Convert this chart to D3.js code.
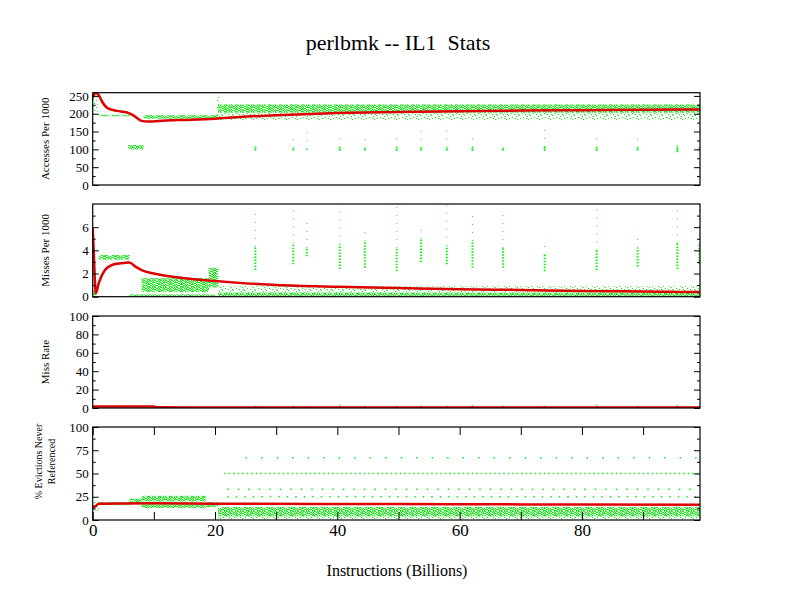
<!DOCTYPE html>
<html>
<head>
<meta charset="utf-8">
<script src="https://cdn.jsdelivr.net/npm/d3@7"></script>
<style>
body { margin: 0; background: #fff; }
svg text { font-family: "Liberation Serif", "Times New Roman", serif; fill: #000; }
</style>
</head>
<body>
<svg width="792" height="612"></svg>
<script>
// x as
let xMax = 99.3;
let xTickValues = [0, 10, 20, 30, 40, 50, 60, 70, 80, 90];
let xTickLabels = [0, 20, 40, 60, 80];

// plaatsen van de pieken (miljard instructies)
let spikeX = [26.6, 32.8, 35.0, 40.4, 44.5, 49.7, 53.7, 57.9, 62.1, 67.1, 73.9, 82.4, 89.1, 95.6, 99.2];

// paneel 1 : accesses per 1000
let accRedX = [0, 0.5, 1, 1.5, 2.5, 4, 5.5, 6.5, 8, 9, 12, 16, 20, 24, 30, 40, 50, 60, 70, 80, 90, 99.3];
let accRedY = [245, 258, 252, 235, 215, 208, 204, 197, 180, 178, 181, 183, 186, 191, 196, 202, 205, 207, 209, 210, 211, 212];
// [x0, x1, laag, hoog, dicht]
let accBands = [[0, 0.8, 200, 258, 0], [0.8, 6, 194, 197, 1], [5.8, 8.3, 100, 112, 1], [8.3, 20.5, 186, 196, 1],
                [20.5, 99.3, 203, 226, 1], [20.5, 99.3, 182, 203, 0], [20.2, 20.7, 196, 252, 0]];
let accSpikeLo = [97, 97, 98, 96, 97, 96, 97, 97, 96, 97, 96, 96, 97, 92, 97];
let accSpikeHi = [106, 104, 100, 106, 104, 106, 105, 105, 106, 104, 107, 106, 105, 108, 104];
let accSpikeTop = [125, 140, 150, 140, 140, 150, 165, 155, 140, 120, 155, 150, 135, 125, 120];

// paneel 2 : misses per 1000
let missRedX = [0, 0.2, 0.5, 1, 2, 3, 4, 5, 6, 7, 8, 10, 12, 15, 20, 25, 30, 40, 50, 60, 70, 80, 90, 99.3];
let missRedY = [5.9, 3.5, 0.3, 1.2, 2.3, 2.7, 2.85, 2.9, 2.95, 2.6, 2.3, 2.0, 1.8, 1.6, 1.35, 1.15, 1.0, 0.85, 0.75, 0.65, 0.58, 0.5, 0.45, 0.4];
let missBands = [[0, 0.5, 0.1, 0.5, 1], [1, 6, 3.2, 3.6, 1], [6, 20, 0, 0.2, 1], [8, 19, 0.4, 1.6, 1],
                 [19, 20.5, 0.8, 2.5, 1], [20.5, 99.3, 0.0, 0.35, 1], [20.5, 99.3, 0.35, 0.9, 0]];
let missSpikeLo = [2.3, 2.8, 3.5, 2.4, 2.5, 2.2, 3.0, 2.8, 2.5, 2.5, 2.2, 2.3, 2.6, 2.4, 2.8];
let missSpikeHi = [4.3, 4.6, 4.2, 4.5, 4.8, 4.2, 5.0, 4.4, 4.8, 4.2, 3.6, 4.0, 4.2, 4.6, 4.6];
let missSpikeTop = [7.5, 7.8, 6.5, 8, 6, 8, 6, 8, 7, 7.5, 5, 8, 5.6, 7.5, 8];

// paneel 3 : miss rate
let rateRedX = [0, 1, 5, 10, 10.5, 20, 40, 60, 80, 99.3];
let rateRedY = [1.5, 1.6, 1.6, 1.5, 0.8, 0.6, 0.5, 0.5, 0.5, 0.5];
let rateBands = [[0, 8, 0.3, 2.0, 0], [8, 20, 0, 0.5, 1], [20, 99.3, 0, 1.3, 0]];
let rateSpikeHi = [3, 3, 2.5, 3.5, 3, 3, 3, 3, 3.5, 3, 3, 3.5, 3, 3.5, 3];

// paneel 4 : % evictions never referenced
let evRedX = [0, 0.5, 1, 5, 10, 20, 40, 60, 70, 80, 99.3];
let evRedY = [13.7, 15, 17.5, 17.8, 18, 17.6, 17.2, 17, 16.8, 16.6, 16.5];
let evBands = [[0, 1, 8, 20, 0], [1, 6, 16, 19, 1], [6, 8, 17, 23, 1], [8, 18.5, 20, 26, 1], [8, 18.5, 13, 18, 1],
               [18.5, 20.5, 14, 19, 1], [20.5, 99.3, 4, 14, 1], [20.5, 99.3, 1, 4, 0]];
// rijen van losse punten [x0, x1, waarde, tussenruimte]
let evRows = [[21.5, 99.3, 50, 3], [25, 99.3, 67, 14], [22, 99.3, 33, 9], [22, 99.3, 25, 7]];

// panelen
let panelLabels = [["Accesses Per 1000"], ["Misses Per 1000"], ["Miss Rate"], ["% Evictions Never", "Referenced"]];
let yMaxes = [259, 8, 100, 100];
let yMajor = [[0, 50, 100, 150, 200, 250], [0, 2, 4, 6], [0, 20, 40, 60, 80, 100], [0, 25, 50, 75, 100]];
let yMinor = [[25, 75, 125, 175, 225], [1, 3, 5, 7], [10, 30, 50, 70, 90], [12.5, 37.5, 62.5, 87.5]];

let left = 92.7, right = 700;
let tops = [92.7, 204, 316, 427];
let bottoms = [185, 296.7, 408, 520];
let green = "#11ee11", red = "#dd0000";

let svg = d3.select("svg");

// stippel patronen voor de puntenwolken (rij -> kolommen met een stip)
let defs = svg.append("defs");
let speck = {
    dense: [[0,1,4,6,7,9], [2,3,5,8,10], [0,1,4,6,9,10], [2,3,5,7,8], [0,4,5,6,9], [1,2,3,7,8,10], [0,4,5,6,9]],
    sparse: [[0], [5], [1,8], [2], [10], [6], [3,9]]
};
Object.keys(speck).forEach(function (k) {
    let cells = [];
    speck[k].forEach((cols, r) => cols.forEach(c => cells.push([c, r])));
    defs.append("pattern")
        .attr("id", "sp-" + k)
        .attr("patternUnits", "userSpaceOnUse")
        .attr("width", 11).attr("height", 7)
        .selectAll("rect")
        .data(cells)
        .enter()
        .append("rect")
        .attr("x", d => d[0]).attr("y", d => d[1])
        .attr("width", 1.1).attr("height", 1.1)
        .attr("fill", green);
});

let x = d3.scaleLinear().domain([0, xMax]).range([left, right]);

// titel
svg.append("text")
    .attr("x", 398).attr("y", 50)
    .attr("text-anchor", "middle")
    .attr("font-size", 22)
    .style("white-space", "pre")
    .text("perlbmk -- IL1  Stats");

svg.append("text")
    .attr("x", 397).attr("y", 576)
    .attr("text-anchor", "middle")
    .attr("font-size", 16)
    .text("Instructions (Billions)");

let panelData = [
    {redX: accRedX, redY: accRedY, bands: accBands},
    {redX: missRedX, redY: missRedY, bands: missBands},
    {redX: rateRedX, redY: rateRedY, bands: rateBands},
    {redX: evRedX, redY: evRedY, bands: evBands}
];

panelData.forEach(function (p, i) {
    let y = d3.scaleLinear().domain([0, yMaxes[i]]).range([bottoms[i], tops[i]]);
    let g = svg.append("g");
    let clipId = "clip" + i;
    defs.append("clipPath").attr("id", clipId)
        .append("rect")
        .attr("x", left).attr("y", tops[i] - 1)
        .attr("width", right - left).attr("height", bottoms[i] - tops[i] + 1);
    let plot = g.append("g").attr("clip-path", "url(#" + clipId + ")");

    // groene wolken
    plot.selectAll("rect.band")
        .data(p.bands)
        .enter()
        .append("rect")
        .attr("class", "band")
        .attr("x", d => x(d[0]))
        .attr("width", d => x(d[1]) - x(d[0]))
        .attr("y", d => y(d[3]))
        .attr("height", d => Math.max(1.5, y(d[2]) - y(d[3])))
        .attr("fill", d => d[4] ? "url(#sp-dense)" : "url(#sp-sparse)");

    // pieken
    let lo = null, hi = null, top = null;
    if (i == 0) { lo = accSpikeLo; hi = accSpikeHi; top = accSpikeTop; }
    if (i == 1) { lo = missSpikeLo; hi = missSpikeHi; top = missSpikeTop; }
    if (i == 2) { lo = spikeX.map(() => 0); hi = rateSpikeHi; }
    if (lo) {
        plot.selectAll("line.spike")
            .data(spikeX)
            .enter()
            .append("line")
            .attr("class", "spike")
            .attr("x1", d => x(d)).attr("x2", d => x(d))
            .attr("y1", (d, k) => y(lo[k]))
            .attr("y2", (d, k) => y(hi[k]))
            .attr("stroke", green)
            .attr("stroke-width", 2)
            .attr("stroke-dasharray", i == 1 ? "1.5,1.5" : "2,0.5");
    }
    if (top) {
        plot.selectAll("line.stem")
            .data(spikeX)
            .enter()
            .append("line")
            .attr("class", "stem")
            .attr("x1", d => x(d)).attr("x2", d => x(d))
            .attr("y1", (d, k) => y(hi[k]))
            .attr("y2", (d, k) => y(top[k]))
            .attr("stroke", green)
            .attr("stroke-width", 1)
            .attr("stroke-dasharray", "1,7");
    }
    if (i == 3) {
        plot.selectAll("line.row")
            .data(evRows)
            .enter()
            .append("line")
            .attr("x1", d => x(d[0])).attr("x2", d => x(d[1]))
            .attr("y1", d => y(d[2])).attr("y2", d => y(d[2]))
            .attr("stroke", green)
            .attr("stroke-width", 1.5)
            .attr("stroke-dasharray", d => "1.5," + d[3]);
    }

    // rode lijn (gemiddelde)
    let line = d3.line()
        .x(d => x(d[0]))
        .y(d => y(d[1]))
        .curve(d3.curveMonotoneX);
    plot.append("path")
        .datum(p.redX.map((v, k) => [v, p.redY[k]]))
        .attr("d", line)
        .attr("fill", "none")
        .attr("stroke", red)
        .attr("stroke-width", 2.5);

    // kader
    g.append("rect")
        .attr("x", left).attr("y", tops[i])
        .attr("width", right - left).attr("height", bottoms[i] - tops[i])
        .attr("fill", "none")
        .attr("stroke", "#000")
        .attr("stroke-width", 1.2);

    // y assen links en rechts, tick streepjes naar binnen
    let axL = g.append("g").attr("transform", "translate(" + left + ",0)")
        .call(d3.axisLeft(y).tickValues(yMajor[i]).tickSize(-6).tickPadding(4));
    axL.selectAll("text").attr("font-size", 13).style("font-family", "Liberation Serif");
    g.append("g").attr("transform", "translate(" + left + ",0)")
        .call(d3.axisLeft(y).tickValues(yMinor[i]).tickSize(-3).tickFormat(""));
    g.append("g").attr("transform", "translate(" + right + ",0)")
        .call(d3.axisRight(y).tickValues(yMajor[i]).tickSize(-6).tickFormat(""));
    g.append("g").attr("transform", "translate(" + right + ",0)")
        .call(d3.axisRight(y).tickValues(yMinor[i]).tickSize(-3).tickFormat(""));
    g.selectAll(".domain").remove();

    // as label
    let mid = (tops[i] + bottoms[i]) / 2;
    let lab = panelLabels[i];
    let fs = lab.length > 1 ? 10 : 11;
    lab.forEach(function (t, k) {
        let lx = lab.length > 1 ? 42 + k * 13 : 49;
        let ly = lab.length > 1 ? mid - 12 : mid;
        svg.append("text")
            .attr("transform", "translate(" + lx + "," + ly + ") rotate(-90)")
            .attr("text-anchor", "middle")
            .attr("font-size", fs)
            .text(t);
    });

    // x as alleen bij het onderste paneel
    if (i == 3) {
        let axB = g.append("g").attr("transform", "translate(0," + bottoms[i] + ")")
            .call(d3.axisBottom(x).tickValues(xTickValues).tickSize(-8).tickPadding(4)
                .tickFormat(d => xTickLabels.includes(d) ? d : ""));
        axB.selectAll("text").attr("font-size", 17).style("font-family", "Liberation Serif");
        g.append("g").attr("transform", "translate(0," + tops[i] + ")")
            .call(d3.axisTop(x).tickValues(xTickValues).tickSize(-8).tickFormat(""));
        g.selectAll(".domain").remove();
    }
});
</script>
</body>
</html>
